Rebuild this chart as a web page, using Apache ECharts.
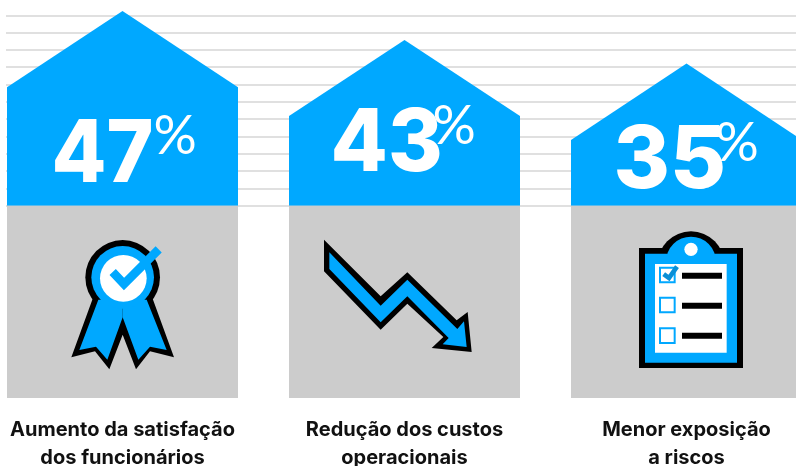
<!DOCTYPE html>
<html>
<head>
<meta charset="utf-8">
<title>Benefícios</title>
<style>
  html, body { margin: 0; padding: 0; background: #fff; }
  #main { width: 796px; height: 466px; }
</style>
<script src="https://cdn.jsdelivr.net/npm/echarts@6/dist/echarts.min.js"></script>
</head>
<body>
<div id="main"></div>
<script>
// valores
var percentValues = [47, 43, 35];
var labelFirstLines = ['Aumento da satisfação', 'Redução dos custos', 'Menor exposição'];
var labelSecondLines = ['dos funcionários', 'operacionais', 'a riscos'];
// altura das casas, em unidades das linhas de grade
var shoulderValues = [6.84, 5.18, 3.8];
var peakValues = [11.25, 9.57, 8.21];

var BLUE = '#00a8ff';
var GRAY = '#cccccc';
var BLACK = '#000000';

function poly(points, fill) {
  return { type: 'polygon', shape: { points: points }, style: { fill: fill } };
}
function rect(x, y, w, h, fill) {
  return { type: 'rect', shape: { x: x, y: y, width: w, height: h }, style: { fill: fill } };
}
function circle(cx, cy, r, fill) {
  return { type: 'circle', shape: { cx: cx, cy: cy, r: r }, style: { fill: fill } };
}
function line(points, color, width) {
  return { type: 'polyline', shape: { points: points }, style: { fill: null, stroke: color, lineWidth: width, lineJoin: 'miter' } };
}
function box(x, y) {
  return { type: 'rect', shape: { x: x, y: y, width: 44, height: 44 }, style: { fill: '#fff', stroke: BLUE, lineWidth: 6 } };
}

// icones desenhados em escala 3x, ajustados pelo grupo
function ribbonIcon() {
  return [
    circle(218, 158, 112, BLACK),
    poly([[128, 222], [64, 398], [135, 380], [178, 434], [218, 330], [258, 434], [300, 380], [372, 398], [308, 222]], BLACK),
    poly([[145, 225], [218, 225], [218, 278], [172, 405], [138, 366], [88, 376]], BLUE),
    poly([[290, 225], [218, 225], [218, 278], [265, 405], [300, 366], [350, 376]], BLUE),
    circle(218, 158, 94, BLUE),
    circle(220, 161, 70, '#fff'),
    line([[188, 142], [222, 178], [326, 74]], BLUE, 26)
  ];
}
function arrowIcon() {
  return [
    poly([[42, 30], [212, 200], [292, 128], [440, 272], [473, 247], [485, 367], [365, 355], [400, 322], [292, 222], [212, 300], [42, 125]], BLACK),
    poly([[58, 68], [212, 228], [292, 150], [442, 298], [462, 275], [470, 352], [398, 344], [416, 325], [292, 200], [212, 278], [58, 118]], BLUE)
  ];
}
function clipboardIcon() {
  return [
    circle(198, 121, 101, BLACK),
    rect(42, 70, 312, 360, BLACK),
    rect(60, 87, 276, 327, BLUE),
    circle(198, 111, 75, BLUE),
    circle(198, 74, 20, '#fff'),
    rect(90, 118, 215, 266, '#fff'),
    box(105, 129), box(105, 219), box(105, 311),
    rect(171, 144, 120, 18, BLACK),
    rect(171, 234, 120, 18, BLACK),
    rect(171, 324, 120, 18, BLACK),
    line([[116, 148], [132, 160], [156, 126]], '#0a8fd6', 14)
  ];
}
var icons = [
  { build: ribbonIcon, x: -72.5, y: 19 },
  { build: arrowIcon, x: -94.5, y: 24 },
  { build: clipboardIcon, x: -61.5, y: 19 }
];
// posicao do numero grande em relacao ao centro da coluna e a base da casa
var numberLayout = [
  { dx: -71, base: -7, squeeze: 0.93, pct: 32 },
  { dx: -74, base: -17.5, squeeze: 0.97, pct: 35 },
  { dx: -73, base: -0.5, squeeze: 1, pct: 35 }
];

var columns = percentValues.map(function (v, i) { return [i, shoulderValues[i], peakValues[i], v]; });
var panels = percentValues.map(function (v, i) { return [i, 1]; });
var BAR_WIDTH = 231 / 282;

function renderHouse(params, api) {
  var i = api.value(0);
  var halfW = api.size([BAR_WIDTH, 0])[0] / 2;
  var base = api.coord([i, 0]);
  var shoulderY = api.coord([i, api.value(1)])[1];
  var peakY = api.coord([i, api.value(2)])[1];
  var layout = numberLayout[i];
  var textX = base[0] + layout.dx;
  var textY = base[1] + layout.base;
  return {
    type: 'group',
    children: [
      poly([[base[0] - halfW, base[1]], [base[0] - halfW, shoulderY], [base[0], peakY], [base[0] + halfW, shoulderY], [base[0] + halfW, base[1]]], BLUE),
      {
        type: 'text',
        x: textX,
        y: textY,
        scaleX: layout.squeeze,
        style: { text: String(api.value(3)), fill: '#fff', font: '800 86px Inter', textAlign: 'left', textVerticalAlign: 'bottom' }
      },
      {
        type: 'text',
        style: { x: textX + 102, y: textY - 35, text: '%', fill: '#fff', font: '400 54px Lato', textAlign: 'left', textVerticalAlign: 'bottom' }
      }
    ]
  };
}

function renderPanel(params, api) {
  var i = api.value(0);
  var halfW = api.size([BAR_WIDTH, 0])[0] / 2;
  var top = api.coord([i, api.value(1)]);
  var bottom = api.coord([i, 0]);
  var icon = icons[i];
  return {
    type: 'group',
    children: [
      rect(top[0] - halfW, top[1], halfW * 2, bottom[1] - top[1], GRAY),
      {
        type: 'group',
        x: top[0] + icon.x,
        y: top[1] + icon.y,
        scaleX: 1 / 3,
        scaleY: 1 / 3,
        children: icon.build()
      },
      {
        type: 'text',
        style: { x: top[0], y: bottom[1] + 32, text: labelFirstLines[i], fill: '#111', font: '700 20px Inter', textAlign: 'center', textVerticalAlign: 'middle' }
      },
      {
        type: 'text',
        style: { x: top[0], y: bottom[1] + 59.5, text: labelSecondLines[i], fill: '#111', font: '700 20px Inter', textAlign: 'center', textVerticalAlign: 'middle' }
      }
    ]
  };
}

var xRange = { min: (6 - 122.5) / 282, max: (796 - 122.5) / 282 };

var chart = echarts.init(document.getElementById('main'));
chart.setOption({
  animation: false,
  grid: [
    { left: 6, right: 0, top: 15.3, height: 190.4 },
    { left: 6, right: 0, top: 205.7, height: 192.3 }
  ],
  xAxis: [
    { type: 'value', gridIndex: 0, min: xRange.min, max: xRange.max, show: false },
    { type: 'value', gridIndex: 1, min: xRange.min, max: xRange.max, show: false }
  ],
  yAxis: [
    {
      type: 'value', gridIndex: 0, min: 0, max: 11, interval: 1,
      axisLine: { show: false }, axisTick: { show: false }, axisLabel: { show: false },
      splitLine: { show: true, lineStyle: { color: '#d6d6d6', width: 1.5 } }
    },
    { type: 'value', gridIndex: 1, min: 0, max: 1, show: false }
  ],
  series: [
    {
      type: 'custom', xAxisIndex: 0, yAxisIndex: 0, clip: false, z: 3,
      renderItem: renderHouse, data: columns
    },
    {
      type: 'custom', xAxisIndex: 1, yAxisIndex: 1, clip: false, z: 4,
      renderItem: renderPanel, data: panels
    }
  ]
});
</script>
</body>
</html>
